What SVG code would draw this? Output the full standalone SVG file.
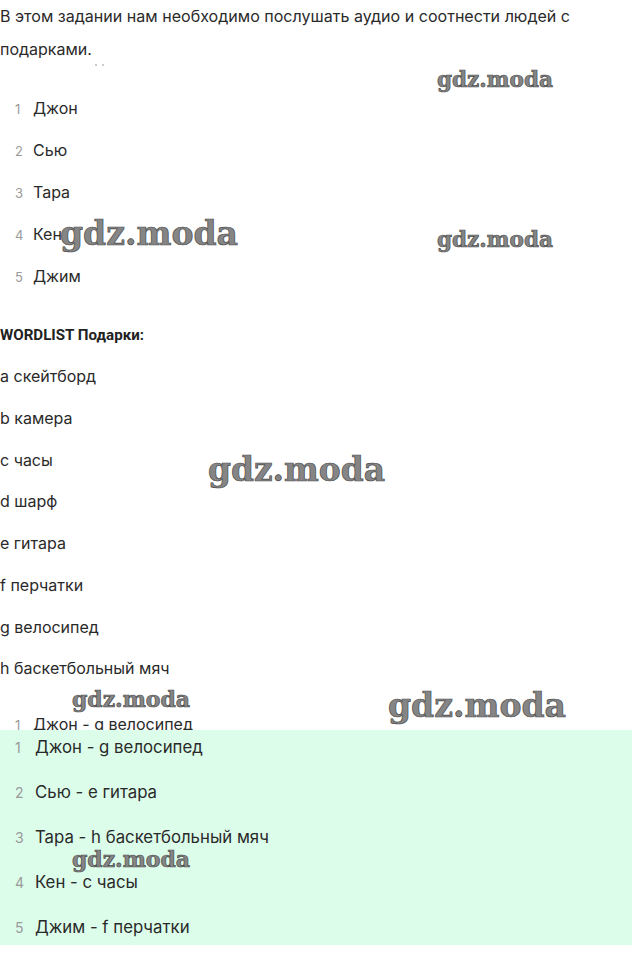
<svg xmlns="http://www.w3.org/2000/svg" width="632" height="980" viewBox="0 0 632 980">
<style>
.t{font-family:Inter,Roboto,"Liberation Sans",sans-serif;font-size:16px;fill:#2a2a2a}
.n{font-family:Inter,Roboto,"Liberation Sans",sans-serif;font-size:13px;fill:#9a9a9a}
.b{font-family:Roboto,"Liberation Sans",sans-serif;font-size:15px;font-weight:bold;fill:#222}
.a{font-family:Inter,Roboto,"Liberation Sans",sans-serif;font-size:16.8px;fill:#2a2a2a}
.an{font-family:Inter,Roboto,"Liberation Sans",sans-serif;font-size:14px;fill:#9a9a9a}
.w{font-family:"DejaVu Serif","Liberation Serif",serif;font-weight:bold;fill:#858585;stroke:#4a4a4a;stroke-width:0.7}
</style>
<rect width="632" height="980" fill="#ffffff"/>
<g id="intro">
<text class="t" x="0" y="22" textLength="570" lengthAdjust="spacingAndGlyphs">В этом задании нам необходимо послушать аудио и соотнести людей с</text>
<text class="t" x="0" y="55">подарками.</text>
<circle cx="96" cy="65" r="0.8" fill="#888"/>
<circle cx="103" cy="65" r="0.8" fill="#888"/>
</g>
<g id="people">
<text class="n" x="15" y="113.5">1</text><text class="t" x="33" y="113.5">Джон</text>
<text class="n" x="15" y="155.5">2</text><text class="t" x="33" y="155.5">Сью</text>
<text class="n" x="15" y="197.5">3</text><text class="t" x="33" y="197.5">Тара</text>
<text class="n" x="15" y="239.5">4</text><text class="t" x="33" y="239.5">Кен</text>
<text class="n" x="15" y="281.5">5</text><text class="t" x="33" y="281.5">Джим</text>
</g>
<g id="wordlist">
<text class="b" x="0" y="340" textLength="144" lengthAdjust="spacingAndGlyphs">WORDLIST Подарки:</text>
<text class="t" x="0" y="381.5">a скейтборд</text>
<text class="t" x="0" y="423.5">b камера</text>
<text class="t" x="0" y="465.5">c часы</text>
<text class="t" x="0" y="506.5">d шарф</text>
<text class="t" x="0" y="548.5">e гитара</text>
<text class="t" x="0" y="590.5">f перчатки</text>
<text class="t" x="0" y="632.5">g велосипед</text>
<text class="t" x="0" y="673.5">h баскетбольный мяч</text>
</g>
<g id="partial">
<text class="n" x="15" y="730">1</text><text class="t" x="33" y="730">Джон - g велосипед</text>
</g>
<g id="answers">
<rect x="0" y="730" width="632" height="215" fill="#dcfdea"/>
<text class="an" x="15" y="753">1</text><text class="a" x="35" y="753">Джон - g велосипед</text>
<text class="an" x="15" y="798">2</text><text class="a" x="35" y="798">Сью - e гитара</text>
<text class="an" x="15" y="843">3</text><text class="a" x="35" y="843">Тара - h баскетбольный мяч</text>
<text class="an" x="15" y="888">4</text><text class="a" x="35" y="888">Кен - c часы</text>
<text class="an" x="15" y="933">5</text><text class="a" x="35" y="933">Джим - f перчатки</text>
</g>
<g id="watermarks">
<text class="w" x="437" y="87" font-size="22" textLength="116" lengthAdjust="spacingAndGlyphs">gdz.moda</text>
<text class="w" x="60" y="245" font-size="33" textLength="178" lengthAdjust="spacingAndGlyphs">gdz.moda</text>
<text class="w" x="437" y="247" font-size="22" textLength="116" lengthAdjust="spacingAndGlyphs">gdz.moda</text>
<text class="w" x="208" y="481" font-size="33" textLength="177" lengthAdjust="spacingAndGlyphs">gdz.moda</text>
<text class="w" x="72" y="707" font-size="22" textLength="118" lengthAdjust="spacingAndGlyphs">gdz.moda</text>
<text class="w" x="388" y="717" font-size="33" textLength="178" lengthAdjust="spacingAndGlyphs">gdz.moda</text>
<text class="w" x="72" y="867" font-size="22" textLength="118" lengthAdjust="spacingAndGlyphs">gdz.moda</text>
</g>
</svg>
